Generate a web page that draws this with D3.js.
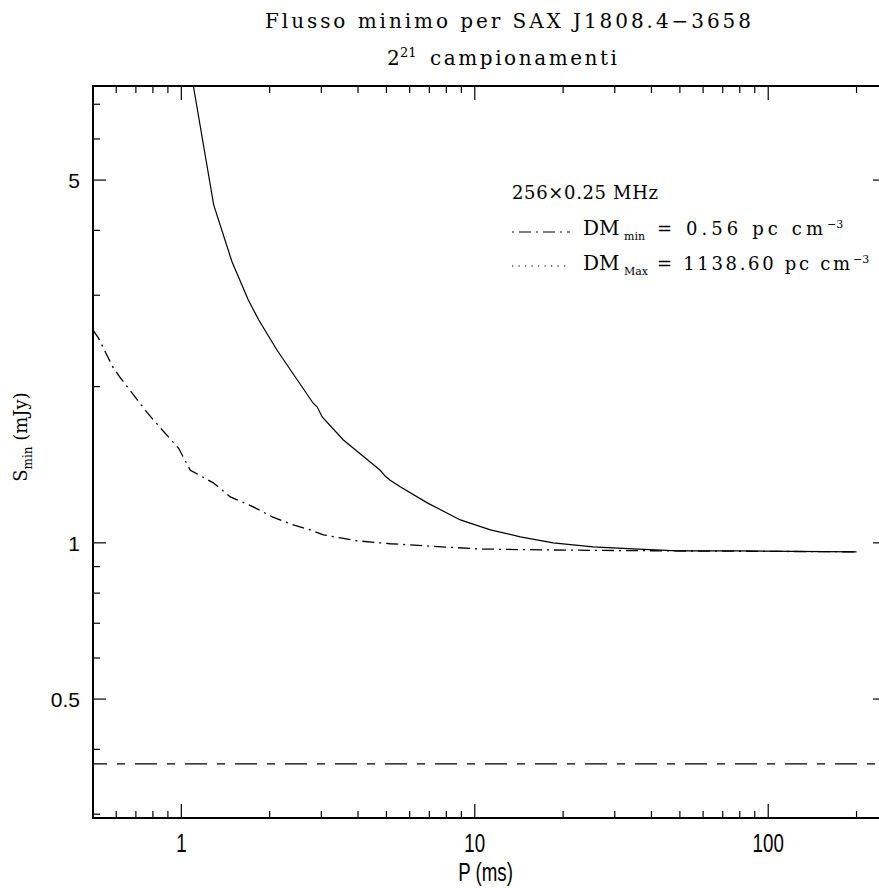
<!DOCTYPE html>
<html>
<head>
<meta charset="utf-8">
<script src="https://cdn.jsdelivr.net/npm/d3@7"></script>
<style>
  body { margin: 0; background: #fff; }
  svg { display: block; }
  .serif { font-family: "DejaVu Serif", "Liberation Serif", serif; fill: #000; }
  .sans { font-family: "Liberation Sans", Arial, sans-serif; fill: #000; }
</style>
</head>
<body>
<script>
// P (ms) / S_min (mJy)
const pSolid = [1.0, 1.099, 1.289, 1.488, 1.69, 1.834, 2.12, 2.81, 2.906, 3.02, 3.56, 4.76, 4.95, 5.15, 5.57, 6.89, 8.93, 11.3, 14.3, 18.5, 25.3, 34.7, 49, 80, 200];
const sSolid = [10.2, 7.59, 4.48, 3.48, 2.94, 2.69, 2.35, 1.86, 1.827, 1.748, 1.58, 1.38, 1.345, 1.32, 1.282, 1.194, 1.107, 1.059, 1.027, 1.0, 0.982, 0.974, 0.965, 0.965, 0.961];

const pDash = [0.5, 0.522, 0.564, 0.587, 0.62, 0.686, 0.766, 0.861, 0.979, 1.073, 1.099, 1.285, 1.469, 1.759, 2.042, 2.35, 2.75, 3.05, 3.48, 3.98, 4.76, 5.15, 10.4, 17.6, 44, 200];
const sDash = [2.57, 2.48, 2.27, 2.17, 2.08, 1.93, 1.78, 1.65, 1.521, 1.38, 1.37, 1.305, 1.226, 1.173, 1.122, 1.088, 1.059, 1.036, 1.022, 1.009, 1.0, 0.996, 0.973, 0.969, 0.965, 0.961];

const sLevel = 0.375;   // horizontal reference line

const xMajor = [1, 10, 100];
const xMinor = [0.6, 0.7, 0.8, 0.9, 2, 3, 4, 5, 6, 7, 8, 9, 20, 30, 40, 50, 60, 70, 80, 90, 200];
const yMajor = [0.5, 1, 5];
const yMinor = [0.3, 0.4, 0.6, 0.7, 0.8, 0.9, 2, 3, 4, 6, 7];

const width = 879, height = 888;
const box = {left: 93, right: 886, top: 86, bottom: 818};

const x = d3.scaleLog().domain([0.5, 252]).range([box.left, box.right]);
const y = d3.scaleLog().domain([0.295, 7.59]).range([box.bottom, box.top]);

const svg = d3.select('body').append('svg')
  .attr('width', width)
  .attr('height', height);

svg.append('defs').append('clipPath').attr('id', 'clip')
  .append('rect')
  .attr('x', box.left).attr('y', box.top)
  .attr('width', box.right - box.left).attr('height', box.bottom - box.top);

const plot = svg.append('g').attr('clip-path', 'url(#clip)');

const line = d3.line().x(d => x(d[0])).y(d => y(d[1]));

plot.append('path')
  .datum(d3.zip(pSolid, sSolid))
  .attr('d', line)
  .attr('fill', 'none')
  .attr('stroke', '#000')
  .attr('stroke-width', 1.2);

plot.append('path')
  .datum(d3.zip(pDash, sDash))
  .attr('d', line)
  .attr('fill', 'none')
  .attr('stroke', '#000')
  .attr('stroke-width', 1.3)
  .attr('stroke-dasharray', '12,5,2,5');

plot.append('line')
  .attr('x1', x.range()[0]).attr('x2', x.range()[1])
  .attr('y1', y(sLevel)).attr('y2', y(sLevel))
  .attr('stroke', '#000')
  .attr('stroke-width', 1.3)
  .attr('stroke-dasharray', '22,10,8,10')
  .attr('stroke-dashoffset', 8);

// ticks on all four sides, pointing in
const ticks = svg.append('g').attr('stroke', '#000').attr('stroke-width', 1.2);
const tx = xMajor.map(v => [v, 14]).concat(xMinor.map(v => [v, 7]));
const ty = yMajor.map(v => [v, 13]).concat(yMinor.map(v => [v, 7]));

ticks.selectAll('.tb').data(tx).enter().append('line')
  .attr('x1', d => x(d[0])).attr('x2', d => x(d[0]))
  .attr('y1', box.bottom).attr('y2', d => box.bottom - d[1]);
ticks.selectAll('.tt').data(tx).enter().append('line')
  .attr('x1', d => x(d[0])).attr('x2', d => x(d[0]))
  .attr('y1', box.top).attr('y2', d => box.top + d[1]);
ticks.selectAll('.tl').data(ty).enter().append('line')
  .attr('y1', d => y(d[0])).attr('y2', d => y(d[0]))
  .attr('x1', box.left).attr('x2', d => box.left + d[1]);
ticks.selectAll('.tr').data(ty).enter().append('line')
  .attr('y1', d => y(d[0])).attr('y2', d => y(d[0]))
  .attr('x1', box.right).attr('x2', d => box.right - d[1]);

svg.append('rect')
  .attr('x', box.left).attr('y', box.top)
  .attr('width', box.right - box.left).attr('height', box.bottom - box.top)
  .attr('fill', 'none')
  .attr('stroke', '#000')
  .attr('stroke-width', 2);

// tick labels
svg.selectAll('.ylab').data(yMajor).enter().append('text')
  .attr('class', 'sans')
  .attr('x', 80)
  .attr('y', d => y(d) + 8)
  .attr('text-anchor', 'end')
  .attr('font-size', 21)
  .text(d => d);

svg.selectAll('.xlab').data(xMajor).enter().append('text')
  .attr('class', 'sans')
  .attr('transform', d => `translate(${x(d)},852) scale(0.72,1)`)
  .attr('text-anchor', 'middle')
  .attr('font-size', 26)
  .text(d => d);

svg.append('text')
  .attr('class', 'sans')
  .attr('transform', `translate(${(box.left + box.right) / 2 - 4},881) scale(0.72,1)`)
  .attr('text-anchor', 'middle')
  .attr('font-size', 26)
  .text('P (ms)');

// y axis title
const yt = svg.append('text')
  .attr('class', 'serif')
  .attr('transform', 'translate(27,437) rotate(-90)')
  .attr('text-anchor', 'middle')
  .attr('font-size', 18);
yt.append('tspan').text('S');
yt.append('tspan').attr('font-size', 12).attr('dy', 5).text('min');
yt.append('tspan').attr('dy', -5).text(' (mJy)');

// title
function label(xp, yp, size, len, str) {
  const t = svg.append('text').attr('class', 'serif')
    .attr('x', xp).attr('y', yp).attr('font-size', size)
    .text(str);
  if (len) t.attr('textLength', len).attr('lengthAdjust', 'spacing');
  return t;
}
label(265, 28, 20, 486, 'Flusso minimo per SAX J1808.4\u22123658');
label(387, 65, 20, 0, '2');
label(400, 57, 13, 0, '21');
label(430, 65, 20, 187, 'campionamenti');

// legend
label(512, 199, 18, 146, '256\u00d70.25 MHz');

svg.append('line')
  .attr('x1', 512).attr('x2', 570).attr('y1', 232).attr('y2', 232)
  .attr('stroke', '#000').attr('stroke-width', 1.2)
  .attr('stroke-dasharray', '12,5,2,5').attr('stroke-dashoffset', 17);
label(583, 235, 20, 0, 'DM');
label(624, 240, 11, 0, 'min');
label(657, 235, 18, 166, '= 0.56 pc cm');
label(827, 228, 11, 0, '\u22123');

svg.append('line')
  .attr('x1', 512).attr('x2', 570).attr('y1', 266).attr('y2', 266)
  .attr('stroke', '#000').attr('stroke-width', 1.2)
  .attr('stroke-dasharray', '1.3,5.2');
label(583, 270, 20, 0, 'DM');
label(624, 275, 11, 0, 'Max');
label(657, 270, 18, 193, '= 1138.60 pc cm');
label(853, 263, 11, 0, '\u22123');
</script>
</body>
</html>
